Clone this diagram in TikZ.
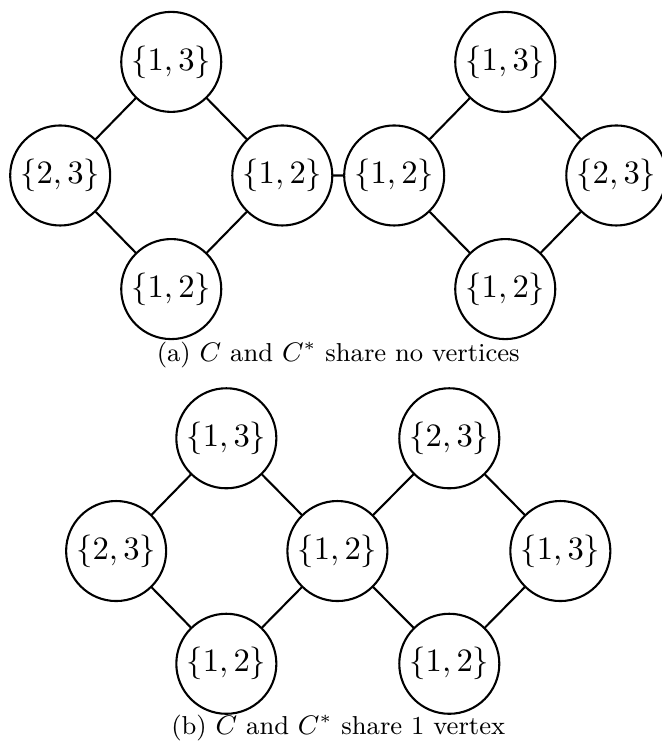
\documentclass[tikz,border=0pt]{standalone}
\usepackage{amsmath}
\begin{document}
\begin{tikzpicture}[line join=round, line cap=round, line width=0.7pt,
    vtx/.style={circle,draw,minimum size=1.18cm,inner sep=0pt,font=\fontsize{11}{13}\selectfont},
    subcap/.style={font=\fontsize{8.7}{10}\selectfont}]
    \useasboundingbox (0,0) rectangle (7.80,-8.80);
    % (a) no shared vertex
    \node[vtx] (a1) at (2.02,-0.73) {$\{1,3\}$};
    \node[vtx] (a2) at (0.71,-2.07) {$\{2,3\}$};
    \node[vtx] (a3) at (3.33,-2.07) {$\{1,2\}$};
    \node[vtx] (a4) at (2.02,-3.41) {$\{1,2\}$};
    \node[vtx] (b1) at (5.96,-0.73) {$\{1,3\}$};
    \node[vtx] (b2) at (4.65,-2.07) {$\{1,2\}$};
    \node[vtx] (b3) at (7.27,-2.07) {$\{2,3\}$};
    \node[vtx] (b4) at (5.96,-3.41) {$\{1,2\}$};
    \draw (a1)--(a2)--(a4)--(a3)--(a1) (a3)--(b2) (b1)--(b2)--(b4)--(b3)--(b1);
    \node[subcap] (capa) at (3.99,-4.19) {(a) $C$ and $C^*$ share no vertices};
    % (b) one shared vertex
    \node[vtx] (c1) at (2.67,-5.17) {$\{1,3\}$};
    \node[vtx] (c2) at (1.37,-6.50) {$\{2,3\}$};
    \node[vtx] (c3) at (3.98,-6.50) {$\{1,2\}$};
    \node[vtx] (c4) at (2.67,-7.83) {$\{1,2\}$};
    \node[vtx] (d1) at (5.30,-5.17) {$\{2,3\}$};
    \node[vtx] (d3) at (6.61,-6.50) {$\{1,3\}$};
    \node[vtx] (d4) at (5.30,-7.83) {$\{1,2\}$};
    \draw (c1)--(c2)--(c4)--(c3)--(c1) (d1)--(c3)--(d4)--(d3)--(d1);
    \node[subcap] (capb) at (3.99,-8.59) {(b) $C$ and $C^*$ share 1 vertex};
\end{tikzpicture}
\end{document}
